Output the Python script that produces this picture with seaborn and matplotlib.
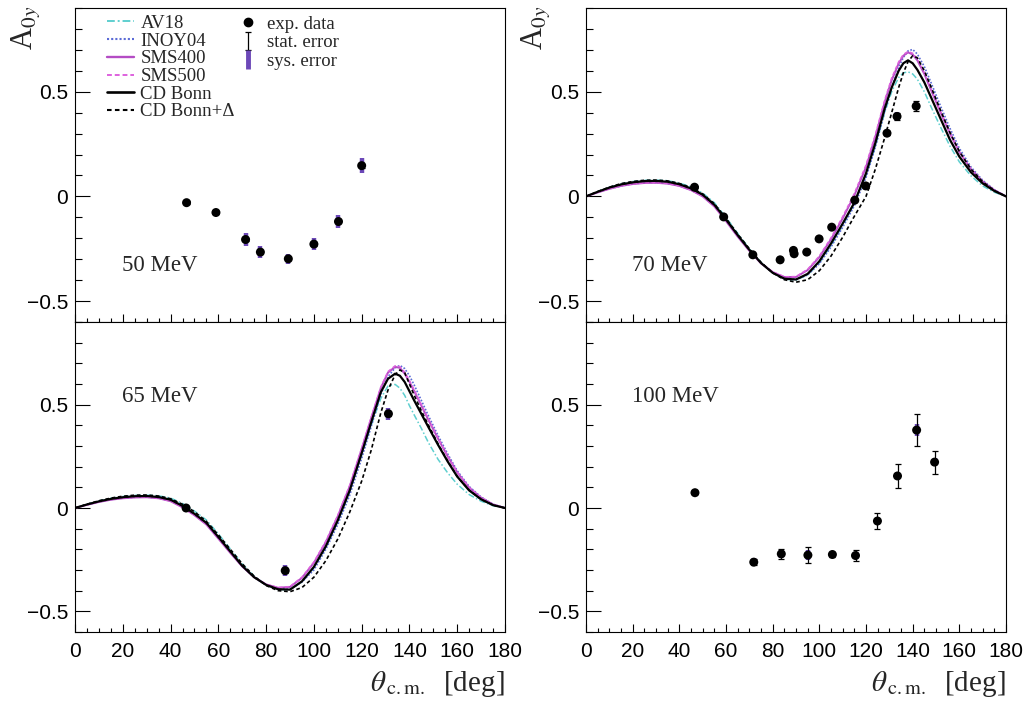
import numpy as np
import pandas as pd
import seaborn as sns
import matplotlib.pyplot as plt
from matplotlib.ticker import MultipleLocator, FixedLocator, FixedFormatter
from matplotlib.lines import Line2D

# angle grid for the model curves
theta = [0, 5, 10, 15, 20, 25, 30, 35, 40, 45, 50, 55, 60, 65, 70, 75, 80, 85, 90, 95,
         100, 105, 110, 115, 120, 124, 128, 131, 134, 136, 138, 140, 142, 145, 148, 152,
         156, 160, 165, 170, 175, 180]

# 70 MeV curves
av18_70 = [0, 0.023, 0.044, 0.06, 0.071, 0.077, 0.078, 0.075, 0.064, 0.045, 0.016, -0.03, -0.1, -0.176,
           -0.25, -0.315, -0.365, -0.395, -0.4, -0.375, -0.318, -0.235, -0.14, -0.035, 0.1, 0.24, 0.4,
           0.5, 0.568, 0.59, 0.595, 0.585, 0.56, 0.5, 0.425, 0.33, 0.24, 0.165, 0.098, 0.05, 0.02, 0]
inoy_70 = [0, 0.019, 0.036, 0.05, 0.06, 0.065, 0.066, 0.062, 0.051, 0.031, 0.002, -0.045, -0.113, -0.187,
           -0.256, -0.318, -0.364, -0.392, -0.397, -0.375, -0.322, -0.242, -0.148, -0.045, 0.09, 0.235,
           0.405, 0.52, 0.615, 0.664, 0.695, 0.702, 0.68, 0.62, 0.54, 0.43, 0.325, 0.23, 0.14, 0.077, 0.032, 0]
sms400_70 = [0, 0.019, 0.036, 0.05, 0.059, 0.064, 0.065, 0.061, 0.05, 0.03, 0.0, -0.048, -0.118, -0.192,
             -0.26, -0.32, -0.362, -0.385, -0.385, -0.352, -0.29, -0.205, -0.105, 0.005, 0.14, 0.285,
             0.45, 0.555, 0.635, 0.672, 0.688, 0.678, 0.65, 0.585, 0.505, 0.4, 0.3, 0.212, 0.13, 0.071, 0.03, 0]
sms500_70 = [0, 0.019, 0.037, 0.051, 0.06, 0.065, 0.066, 0.062, 0.051, 0.031, 0.001, -0.047, -0.117, -0.19,
             -0.258, -0.318, -0.36, -0.384, -0.383, -0.348, -0.285, -0.198, -0.097, 0.014, 0.15, 0.295,
             0.46, 0.565, 0.643, 0.678, 0.692, 0.684, 0.656, 0.59, 0.51, 0.404, 0.303, 0.214, 0.131, 0.072, 0.03, 0]
cdb_70 = [0, 0.022, 0.042, 0.057, 0.067, 0.073, 0.074, 0.07, 0.058, 0.038, 0.008, -0.04, -0.11, -0.185,
          -0.255, -0.318, -0.365, -0.393, -0.397, -0.37, -0.31, -0.225, -0.13, -0.03, 0.11, 0.255, 0.42,
          0.52, 0.6, 0.636, 0.65, 0.636, 0.605, 0.545, 0.47, 0.37, 0.27, 0.19, 0.115, 0.062, 0.026, 0]
cdbd_70 = [0, 0.023, 0.044, 0.061, 0.071, 0.077, 0.078, 0.074, 0.062, 0.042, 0.012, -0.035, -0.105, -0.18,
           -0.25, -0.315, -0.365, -0.398, -0.41, -0.398, -0.355, -0.285, -0.195, -0.095, 0.0, 0.13, 0.28,
           0.4, 0.52, 0.59, 0.643, 0.672, 0.662, 0.6, 0.52, 0.41, 0.305, 0.215, 0.13, 0.07, 0.028, 0]

# 65 MeV curves
av18_65 = [0, 0.018, 0.034, 0.047, 0.056, 0.061, 0.062, 0.059, 0.048, 0.022, -0.015, -0.058, -0.125, -0.198,
           -0.27, -0.33, -0.372, -0.395, -0.395, -0.358, -0.29, -0.19, -0.066, 0.078, 0.255, 0.4, 0.53,
           0.59, 0.598, 0.58, 0.545, 0.495, 0.45, 0.385, 0.315, 0.235, 0.17, 0.115, 0.065, 0.033, 0.011, 0]
inoy_65 = [0, 0.016, 0.03, 0.041, 0.048, 0.052, 0.053, 0.048, 0.035, 0.006, -0.032, -0.077, -0.145, -0.214,
           -0.282, -0.336, -0.373, -0.392, -0.393, -0.358, -0.3, -0.2, -0.08, 0.062, 0.24, 0.395, 0.55,
           0.635, 0.678, 0.69, 0.675, 0.64, 0.595, 0.52, 0.445, 0.35, 0.262, 0.18, 0.104, 0.053, 0.018, 0]
sms400_65 = [0, 0.015, 0.029, 0.04, 0.047, 0.051, 0.052, 0.047, 0.033, 0.003, -0.035, -0.08, -0.148, -0.217,
             -0.283, -0.335, -0.37, -0.386, -0.382, -0.338, -0.265, -0.165, -0.04, 0.105, 0.285, 0.435,
             0.58, 0.655, 0.683, 0.678, 0.65, 0.61, 0.565, 0.495, 0.425, 0.335, 0.25, 0.172, 0.098, 0.05, 0.017, 0]
sms500_65 = [0, 0.016, 0.03, 0.041, 0.048, 0.052, 0.053, 0.048, 0.034, 0.004, -0.034, -0.079, -0.147, -0.216,
             -0.282, -0.334, -0.369, -0.385, -0.38, -0.335, -0.261, -0.16, -0.035, 0.11, 0.29, 0.44,
             0.585, 0.66, 0.688, 0.684, 0.657, 0.617, 0.572, 0.5, 0.43, 0.338, 0.252, 0.174, 0.1, 0.051, 0.017, 0]
cdb_65 = [0, 0.017, 0.032, 0.044, 0.052, 0.057, 0.058, 0.053, 0.04, 0.01, -0.028, -0.072, -0.14, -0.21,
          -0.28, -0.335, -0.372, -0.393, -0.395, -0.355, -0.285, -0.185, -0.06, 0.085, 0.265, 0.415, 0.56,
          0.625, 0.65, 0.64, 0.61, 0.565, 0.52, 0.455, 0.39, 0.305, 0.225, 0.152, 0.085, 0.042, 0.014, 0]
cdbd_65 = [0, 0.018, 0.035, 0.048, 0.057, 0.062, 0.063, 0.058, 0.045, 0.018, -0.018, -0.065, -0.13, -0.2,
           -0.27, -0.33, -0.375, -0.4, -0.405, -0.385, -0.335, -0.255, -0.15, -0.02, 0.13, 0.28, 0.46,
           0.57, 0.645, 0.668, 0.655, 0.6, 0.545, 0.47, 0.4, 0.31, 0.228, 0.153, 0.086, 0.042, 0.014, 0]

# measured points
th_50 = [46.7, 59.0, 71.4, 77.6, 89.3, 100.0, 110.3, 120.0]
a_50 = [-0.030, -0.077, -0.206, -0.266, -0.298, -0.228, -0.120, 0.147]
stat_50 = [0.006, 0.006, 0.008, 0.008, 0.008, 0.008, 0.008, 0.01]
sys_50 = [0.008, 0.01, 0.03, 0.03, 0.025, 0.03, 0.032, 0.035]

th_65 = [46.5, 88.0, 131.2]
a_65 = [0.0, -0.303, 0.456]
stat_65 = [0.006, 0.01, 0.012]
sys_65 = [0.01, 0.025, 0.03]

th_70 = [46.5, 59.0, 71.5, 83.2, 88.9, 89.2, 94.6, 99.9, 105.3, 115.2, 119.9, 129.0, 133.3, 141.5]
a_70 = [0.044, -0.098, -0.279, -0.303, -0.258, -0.274, -0.266, -0.203, -0.147, -0.018, 0.050, 0.302, 0.382, 0.431]
stat_70 = [0.005, 0.005, 0.005, 0.005, 0.005, 0.005, 0.005, 0.005, 0.006, 0.006, 0.008, 0.01, 0.015, 0.025]
sys_70 = [0.008, 0.008, 0.01, 0.012, 0.01, 0.01, 0.01, 0.01, 0.012, 0.012, 0.012, 0.015, 0.02, 0.02]

th_100 = [46.7, 71.9, 83.7, 95.1, 105.6, 115.5, 124.9, 133.5, 141.7, 149.4]
a_100 = [0.074, -0.262, -0.222, -0.228, -0.225, -0.230, -0.063, 0.155, 0.377, 0.222]
stat_100 = [0.005, 0.015, 0.025, 0.038, 0.012, 0.027, 0.039, 0.058, 0.078, 0.056]
sys_100 = [0.005, 0.02, 0.02, 0.025, 0.01, 0.015, 0.01, 0.01, 0.03, 0.02]

models = ['AV18', 'INOY04', 'SMS400', 'SMS500', 'CD Bonn', 'CD Bonn+\u0394']
palette = {'AV18': '#5fcfcf', 'INOY04': '#5b6bd6', 'SMS400': '#b44cc4',
           'SMS500': '#de62de', 'CD Bonn': 'black', 'CD Bonn+\u0394': 'black'}
dashes = {'AV18': (4, 1.5, 1, 1.5), 'INOY04': (1, 1), 'SMS400': '',
          'SMS500': (2.5, 1.5), 'CD Bonn': '', 'CD Bonn+\u0394': (2.2, 1.6)}
widths = {'AV18': 1.1, 'INOY04': 1.2, 'SMS400': 1.4, 'SMS500': 1.1, 'CD Bonn': 1.6, 'CD Bonn+\u0394': 1.2}

SYS_COLOR = '#6c48b8'
SERIF = 'Liberation Serif'

sns.set_theme(style='ticks')
plt.rcParams['font.family'] = ['Liberation Sans', 'DejaVu Sans']
plt.rcParams['mathtext.fontset'] = 'stix'
plt.rcParams['axes.linewidth'] = 0.8


def curves_frame(curves):
    rows = []
    for name, vals in zip(models, curves):
        rows.append(pd.DataFrame({'theta': theta, 'A': vals, 'model': name}))
    return pd.concat(rows, ignore_index=True)


def draw_panel(ax, th, a, stat, sys_err, label, curves=None, xlabels=True):
    if curves is not None:
        df = curves_frame(curves)
        sns.lineplot(data=df, x='theta', y='A', hue='model', style='model', size='model',
                     hue_order=models, style_order=models, size_order=models,
                     palette=palette, dashes=dashes, sizes=widths,
                     legend=False, ax=ax, sort=False, estimator=None)
    ax.errorbar(th, a, yerr=sys_err, fmt='none', ecolor=SYS_COLOR, elinewidth=3.2, capsize=0, zorder=4)
    ax.errorbar(th, a, yerr=stat, fmt='none', ecolor='black', elinewidth=0.9, capsize=2.5,
                capthick=0.9, zorder=5)
    sns.scatterplot(x=th, y=a, color='black', s=42, edgecolor='none', zorder=6, ax=ax)

    ax.set_xlim(0, 180)
    ax.set_ylim(-0.6, 0.9)
    ax.xaxis.set_major_locator(MultipleLocator(20))
    ax.xaxis.set_minor_locator(MultipleLocator(5))
    ax.yaxis.set_major_locator(FixedLocator([-0.5, 0, 0.5]))
    ax.yaxis.set_major_formatter(FixedFormatter(['\u22120.5', '0', '0.5']))
    ax.yaxis.set_minor_locator(MultipleLocator(0.1))
    ax.tick_params(which='both', direction='in', top=False, right=False, colors='black',
                   labelsize=15, width=0.8)
    ax.tick_params(axis='y', which='major', length=10.5, pad=5)
    ax.tick_params(axis='y', which='minor', length=5)
    ax.tick_params(axis='x', which='major', length=6, pad=7)
    ax.tick_params(axis='x', which='minor', length=3)
    if not xlabels:
        ax.tick_params(axis='x', labelbottom=False)
    ax.set_xlabel('')
    ax.set_ylabel('')
    for s in ax.spines.values():
        s.set_color('black')
        s.set_linewidth(0.8)
    ax.text(19.5, -0.33 if label in ('50 MeV', '70 MeV') else 0.54, label,
            fontsize=16.5, family=SERIF, va='center', ha='left')


fig = plt.figure(figsize=(10.27, 7.07), dpi=100)
W, H = 1027, 707
ax_tl = fig.add_axes([75 / W, 1 - 322 / H, 430 / W, 314 / H])
ax_tr = fig.add_axes([586 / W, 1 - 322 / H, 420 / W, 314 / H])
ax_bl = fig.add_axes([75 / W, 1 - 632 / H, 430 / W, 310 / H])
ax_br = fig.add_axes([586 / W, 1 - 632 / H, 420 / W, 310 / H])

draw_panel(ax_tl, th_50, a_50, stat_50, sys_50, '50 MeV', None, xlabels=False)
draw_panel(ax_tr, th_70, a_70, stat_70, sys_70, '70 MeV',
           [av18_70, inoy_70, sms400_70, sms500_70, cdb_70, cdbd_70], xlabels=False)
draw_panel(ax_bl, th_65, a_65, stat_65, sys_65, '65 MeV',
           [av18_65, inoy_65, sms400_65, sms500_65, cdb_65, cdbd_65])
draw_panel(ax_br, th_100, a_100, stat_100, sys_100, '100 MeV', None)

# legend: models
model_handles = [Line2D([], [], color=palette[m], lw=widths[m] + 0.3,
                        dashes=dashes[m] if dashes[m] else (None, None)) for m in models]
leg1 = ax_tl.legend(model_handles, models, loc='upper left', bbox_to_anchor=(0.075, 0.978),
                    frameon=False, prop={'family': SERIF, 'size': 13.5}, handlelength=1.45,
                    handletextpad=0.32, labelspacing=0.03, borderpad=0, borderaxespad=0)
ax_tl.add_artist(leg1)

# legend: data
h_exp = Line2D([], [], ls='none', marker='o', color='black', ms=6)
h_stat = ax_tl.errorbar([np.nan], [np.nan], yerr=[0.1], fmt='none', ecolor='black',
                        elinewidth=0.9, capsize=2, capthick=0.9)
h_sys = ax_tl.errorbar([np.nan], [np.nan], yerr=[0.1], fmt='none', ecolor=SYS_COLOR,
                       elinewidth=3.5, capsize=0)
ax_tl.legend([h_exp, h_stat, h_sys], ['exp. data', 'stat. error', 'sys. error'],
             loc='upper left', bbox_to_anchor=(0.384, 0.976), frameon=False,
             prop={'family': SERIF, 'size': 13.5}, handlelength=0.85, handletextpad=0.6,
             labelspacing=0.09, borderpad=0, borderaxespad=0)

# axis titles
for xc in (25, 536):
    fig.text(xc / W, 1 - 6 / H, r'A$_{\mathit{0y}}$', rotation=90, ha='center', va='top',
             fontsize=22, family=SERIF)
for xr in (505, 1006):
    fig.text(xr / W, 1 - 684 / H, r'$\theta_{\,\mathrm{c.m.}}$  [deg]', ha='right', va='center',
             fontsize=21, family=SERIF)

fig.savefig('out.png', dpi=100)
